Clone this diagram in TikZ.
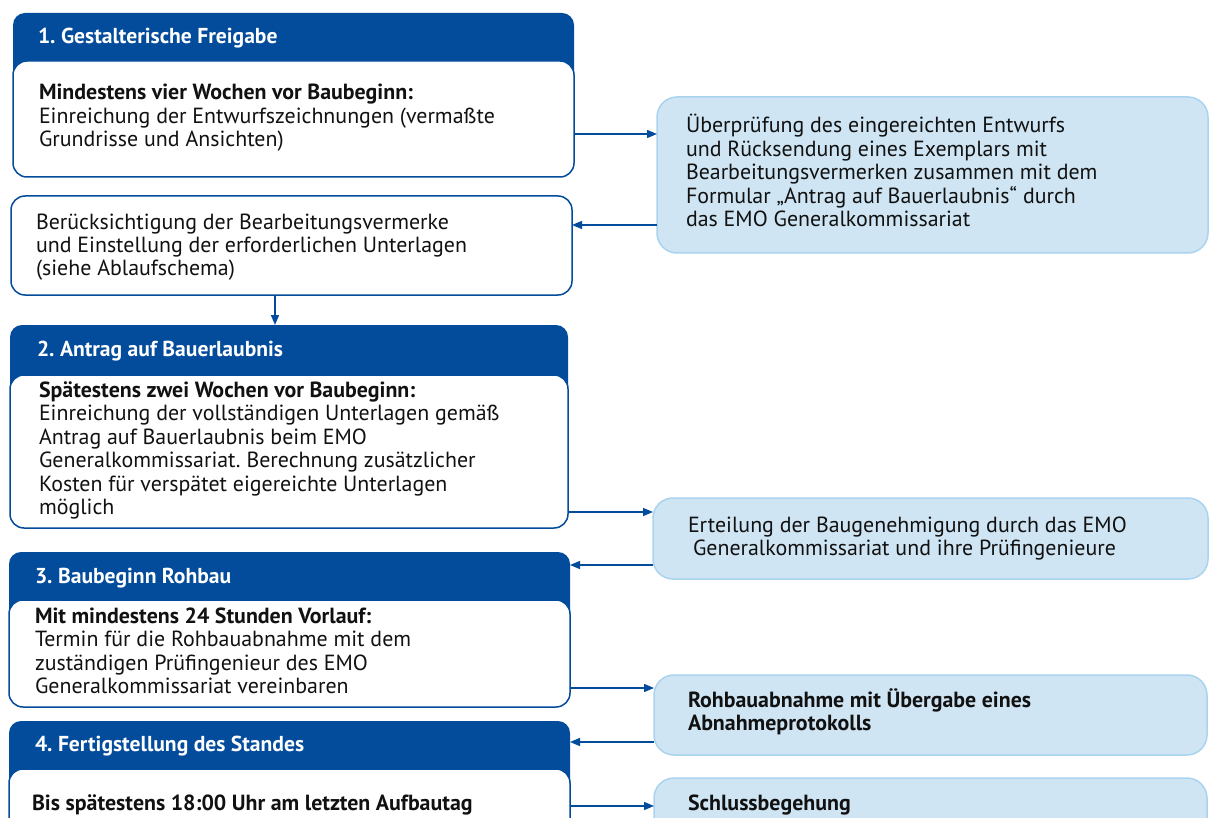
\documentclass[tikz,border=0pt]{standalone}
\usepackage{fontspec}
\setmainfont{PT Sans}
\usetikzlibrary{arrows.meta}
\definecolor{emoblue}{HTML}{034B9B}
\definecolor{lightfill}{HTML}{CFE5F3}
\definecolor{lightline}{HTML}{A9D3EE}
\definecolor{bodytext}{HTML}{111111}
\newcommand{\fstrut}{\rule{0pt}{20pt}}
\frenchspacing
\begin{document}
\begin{tikzpicture}[x=1pt,y=-1pt,
 every node/.style={inner sep=0pt, outer sep=0pt},
 header/.style={anchor=north west, fill=emoblue, rounded corners=12pt},
 bodybox/.style={anchor=north west, fill=white, draw=emoblue, line width=1.5pt, rounded corners=14pt},
 infobox/.style={anchor=north west, fill=lightfill, draw=lightline, line width=1.5pt, rounded corners=20pt},
 headtext/.style={anchor=north west, text=white, font=\fontsize{21.6}{23.5}\selectfont\bfseries, align=left},
 bodytxt/.style={anchor=north west, text=bodytext, font=\fontsize{21.9}{23.5}\selectfont, align=left},
 arr/.style={draw=emoblue, line width=1.4pt, -{Triangle[length=10pt,width=8pt]}}
]
\useasboundingbox (0,0) rectangle (1209,818);
\clip (0,0) rectangle (1209,818);

% step 1
\node[header, minimum width=561pt, minimum height=90pt] (h1) at (13,13) {};
\node[bodybox, minimum width=561pt, minimum height=116pt] (b1) at (13,61) {};
\node[headtext] (th1) at (38,24) {\fstrut 1. Gestalterische Freigabe};
\node[bodytxt] (tb1) at (39,80) {\fstrut\textbf{Mindestens vier Wochen vor Baubeginn:}\\Einreichung der Entwurfszeichnungen (vermaßte\\Grundrisse und Ansichten)};

% review box
\node[bodybox, minimum width=561pt, minimum height=99pt] (bb) at (11,196) {};
\node[bodytxt] (tbb) at (36,209) {\fstrut Berücksichtigung der Bearbeitungsvermerke\\und Einstellung der erforderlichen Unterlagen\\(siehe Ablaufschema)};

% step 2
\node[header, minimum width=558pt, minimum height=90pt] (h2) at (10,325) {};
\node[bodybox, minimum width=558pt, minimum height=153pt] (b2) at (10,375) {};
\node[headtext] (th2) at (37,336) {\fstrut 2. Antrag auf Bauerlaubnis};
\node[bodytxt] (tb2) at (39,377) {\fstrut\textbf{Spätestens zwei Wochen vor Baubeginn:}\\Einreichung der vollständigen Unterlagen gemäß\\Antrag auf Bauerlaubnis beim EMO\\Generalkommissariat. Berechnung zusätzlicher\\Kosten für verspätet eigereichte Unterlagen\\möglich};

% step 3
\node[header, minimum width=561pt, minimum height=90pt] (h3) at (9,552) {};
\node[bodybox, minimum width=561pt, minimum height=107pt] (b3) at (9,600) {};
\node[headtext] (th3) at (35,563) {\fstrut 3. Baubeginn Rohbau};
\node[bodytxt] (tb3) at (35,603) {\fstrut\textbf{Mit mindestens 24 Stunden Vorlauf:}\\Termin für die Rohbauabnahme mit dem\\zuständigen Prüfingenieur des EMO\\Generalkommissariat vereinbaren};

% step 4
\node[header, minimum width=561pt, minimum height=90pt] (h4) at (9,721) {};
\node[bodybox, minimum width=561pt, minimum height=100pt] (b4) at (9,769) {};
\node[headtext] (th4) at (35,731) {\fstrut 4. Fertigstellung des Standes};
\node[bodytxt] (tb4) at (32,790) {\fstrut\textbf{Bis spätestens 18:00 Uhr am letzten Aufbautag}};

% info boxes
\node[infobox, minimum width=551pt, minimum height=156pt] (r1) at (657,97) {};
\node[bodytxt] (tr1) at (686,113) {\fstrut Überprüfung des eingereichten Entwurfs\\und Rücksendung eines Exemplars mit\\Bearbeitungsvermerken zusammen mit dem\\Formular „Antrag auf Bauerlaubnis“ durch\\das EMO Generalkommissariat};

\node[infobox, minimum width=555pt, minimum height=81pt] (r2) at (653,498) {};
\node[bodytxt] (tr2) at (688,512) {\fstrut Erteilung der Baugenehmigung durch das EMO\\\hspace*{5pt}Generalkommissariat und ihre Prüfingenieure};

\node[infobox, minimum width=553pt, minimum height=80pt] (r3) at (654,675) {};
\node[bodytxt] (tr3) at (688,687) {\fstrut\textbf{Rohbauabnahme mit Übergabe eines}\\\textbf{Abnahmeprotokolls}};

\node[infobox, minimum width=553pt, minimum height=100pt] (r4) at (654,778) {};
\node[bodytxt] (tr4) at (688,790) {\fstrut\textbf{Schlussbegehung}};

% connector levels
\coordinate (y1) at (0,134);
\coordinate (y2) at (0,225);
\coordinate (x3) at (275,0);
\coordinate (y4) at (0,512);
\coordinate (y5) at (0,565);
\coordinate (y6) at (0,688);
\coordinate (y7) at (0,742);
\coordinate (y8) at (0,806);

\draw[arr] (b1.east |- y1) -- (r1.west |- y1);
\draw[arr] (r1.west |- y2) -- (bb.east |- y2);
\draw[arr] (bb.south -| x3) -- (h2.north -| x3);
\draw[arr] (b2.east |- y4) -- (r2.west |- y4);
\draw[arr] (r2.west |- y5) -- (h3.east |- y5);
\draw[arr] (b3.east |- y6) -- (r3.west |- y6);
\draw[arr] (r3.west |- y7) -- (h4.east |- y7);
\draw[arr] (b4.east |- y8) -- (r4.west |- y8);
\end{tikzpicture}
\end{document}
